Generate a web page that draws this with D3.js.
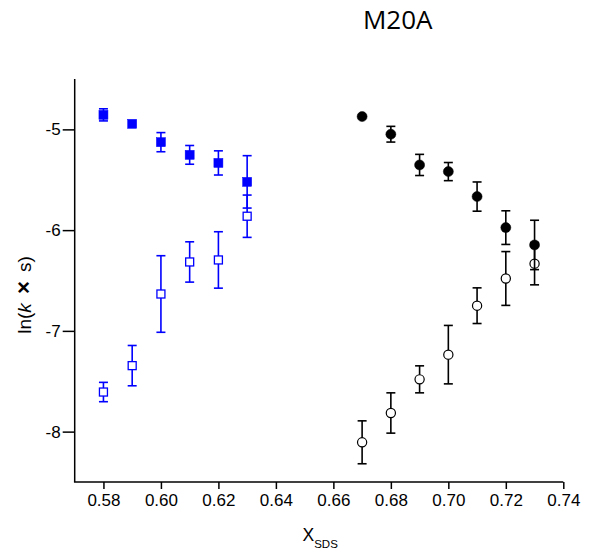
<!DOCTYPE html>
<html>
<head>
<meta charset="utf-8">
<script src="https://cdn.jsdelivr.net/npm/d3@7"></script>
<style>
  body { margin: 0; background: #fff; }
  svg { display: block; }
  text { font-family: "Liberation Sans", Arial, sans-serif; }
</style>
</head>
<body>
<svg id="chart" width="589" height="552"></svg>
<script>
// ---- data ----
const xBlue = [0.58, 0.59, 0.60, 0.61, 0.62, 0.63];
const blueFilled = [-4.856, -4.945, -5.127, -5.253, -5.333, -5.521];
const blueFilledErr = [0.06, 0.0, 0.095, 0.093, 0.12, 0.26];
const blueOpen = [-7.607, -7.345, -6.634, -6.316, -6.296, -5.862];
const blueOpenErr = [0.096, 0.2, 0.38, 0.2, 0.28, 0.21];

const xBlack = [0.67, 0.68, 0.69, 0.70, 0.71, 0.72, 0.73];
const blackFilled = [-4.873, -5.048, -5.353, -5.419, -5.667, -5.975, -6.147];
const blackFilledErr = [0.0, 0.078, 0.105, 0.09, 0.145, 0.167, 0.245];
const blackOpen = [-8.106, -7.815, -7.481, -7.236, -6.75, -6.48, -6.333];
const blackOpenErr = [0.213, 0.2, 0.134, 0.29, 0.177, 0.267, 0.21];

const xTicks = [0.58, 0.60, 0.62, 0.64, 0.66, 0.68, 0.70, 0.72, 0.74];
const yTicks = [-5, -6, -7, -8];

// ---- layout ----
const svg = d3.select("#chart");
const x = d3.scaleLinear().domain([0.57, 0.74]).range([74.7, 563.3]);
const y = d3.scaleLinear().domain([-8.5, -4.5]).range([482, 79]);

// axes
const xAxis = d3.axisBottom(x).tickValues(xTicks).tickFormat(d3.format(".2f")).tickSize(7).tickSizeOuter(0).tickPadding(5);
const yAxis = d3.axisLeft(y).tickValues(yTicks).tickFormat(d => d3.format("d")(d).replace("\u2212", "-")).tickSize(12).tickSizeOuter(0).tickPadding(2);

const gx = svg.append("g").attr("transform", "translate(0,482)").call(xAxis);
const gy = svg.append("g").attr("transform", "translate(74.7,0)").call(yAxis);
[gx, gy].forEach(g => {
  g.attr("font-size", null).attr("font-family", null);
  g.select(".domain").attr("stroke", "#000").attr("stroke-width", 1.5);
  g.selectAll(".tick line").attr("stroke", "#000").attr("stroke-width", 1.5);
  g.selectAll(".tick text").attr("fill", "#000").style("font-size", "17px")
   .style("font-family", '"Liberation Sans", Arial, sans-serif');
});
gx.select(".domain").attr("d", `M${x(0.57) - 0.75},0H${x(0.74)}`);
gy.select(".domain").attr("d", `M0,${y(-4.5)}V${y(-8.5)}`);

// title
svg.append("text").attr("x", 397.7).attr("y", 28.5).attr("text-anchor", "middle")
  .style("font-family", '"Open Sans", sans-serif').style("font-size", "26px").attr("fill", "#000")
  .text("M20A");

// x label
const xl = svg.append("text").attr("x", 302.5).attr("y", 540.7).attr("fill", "#000")
  .style("font-size", "17.5px");
xl.append("tspan").text("X");
xl.append("tspan").attr("dy", 7.6).style("font-size", "11.5px").text("SDS");

// y label
const yl = svg.append("text").attr("transform", "translate(31,295) rotate(-90)")
  .attr("text-anchor", "middle").attr("fill", "#000").style("font-size", "19px")
  .style("word-spacing", "3px");
yl.append("tspan").text("ln(");
yl.append("tspan").style("font-style", "italic").text("k");
yl.append("tspan").style("font-weight", "bold").style("font-size", "22px").text(" \u00d7 ");
yl.append("tspan").text("s)");

// ---- marks ----
const cap = 4.5;
function errorBars(xs, ys, es, color) {
  const g = svg.append("g").attr("stroke", color).attr("stroke-width", 1.6).attr("fill", "none");
  xs.forEach((xv, i) => {
    if (!es[i]) return;
    const cx = x(xv), y1 = y(ys[i] + es[i]), y2 = y(ys[i] - es[i]);
    g.append("line").attr("x1", cx).attr("x2", cx).attr("y1", y1).attr("y2", y2);
    g.append("line").attr("x1", cx - cap).attr("x2", cx + cap).attr("y1", y1).attr("y2", y1);
    g.append("line").attr("x1", cx - cap).attr("x2", cx + cap).attr("y1", y2).attr("y2", y2);
  });
}
function squares(xs, ys, color, filled) {
  const s = filled ? 9 : 8;
  svg.append("g").selectAll("rect").data(xs).join("rect")
    .attr("x", d => x(d) - s / 2).attr("y", (d, i) => y(ys[i]) - s / 2)
    .attr("width", s).attr("height", s)
    .attr("fill", filled ? color : "#fff")
    .attr("stroke", color).attr("stroke-width", filled ? 0.5 : 1.3);
}
function circles(xs, ys, color, filled) {
  svg.append("g").selectAll("circle").data(xs).join("circle")
    .attr("cx", d => x(d)).attr("cy", (d, i) => y(ys[i]))
    .attr("r", filled ? 5 : 4.6)
    .attr("fill", filled ? color : "#fff")
    .attr("stroke", color).attr("stroke-width", filled ? 0.5 : 1.2);
}

const blue = "#0000ff";
errorBars(xBlue, blueOpen, blueOpenErr, blue);
squares(xBlue, blueOpen, blue, false);
errorBars(xBlue, blueFilled, blueFilledErr, blue);
squares(xBlue, blueFilled, blue, true);

errorBars(xBlack, blackOpen, blackOpenErr, "#000");
circles(xBlack, blackOpen, "#000", false);
errorBars(xBlack, blackFilled, blackFilledErr, "#000");
circles(xBlack, blackFilled, "#000", true);
</script>
</body>
</html>
